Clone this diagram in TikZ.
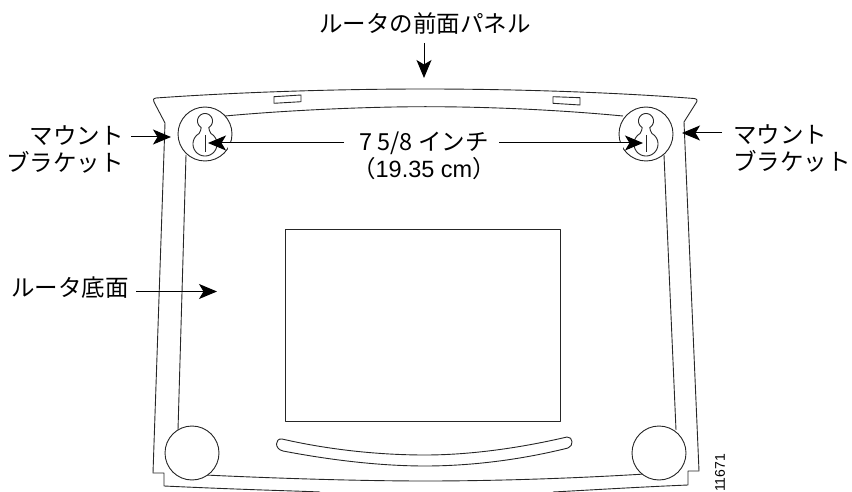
\documentclass[tikz,border=0pt]{standalone}
\usepackage{fontspec}
\setmainfont{Liberation Sans}
\newfontfamily\cjk{Noto Sans CJK JP}
\usetikzlibrary{arrows.meta}
\tikzset{
  body/.style={draw=black!85,line width=0.9pt,line join=round},
  callout/.style={draw=black,line width=1pt,-{Stealth[length=18pt,width=15pt,inset=4.5pt]}},
  halo/.style={draw=white,line width=7pt},
  lab/.style={font=\fontsize{23.5}{27}\selectfont\cjk,inner sep=0pt,align=center},
  knob/.style={draw=black!85,line width=0.9pt,fill=white,circle,minimum size=54pt,inner sep=0pt},
}
\begin{document}
\begin{tikzpicture}[x=1pt,y=-1pt]
\useasboundingbox (0,0) rectangle (852,492);
% outer shell
\draw[body] (320,492) .. controls (300,491) and (250,490) .. (164,486) -- (164,473) -- (153,473) -- (165,123) -- (154,102) .. controls (153,100) and (153,98.5) .. (156,98) .. controls (240,92) and (340,89) .. (425,89) .. controls (510,89) and (610,92) .. (694,98.5) .. controls (697,99) and (698,100) .. (696,103) -- (684,122) -- (699,471) -- (688,471) -- (688,485) .. controls (640,487) and (590,490) .. (553,492);
% inner
\draw[body] (225,116) .. controls (290,110) and (370,106.7) .. (425,106.7) .. controls (490,106.7) and (560,110) .. (623,116);
\draw[body] (186,155) -- (178,430);
\draw[body] (664,155) -- (676,430);
\draw[body] (205,475) .. controls (290,479) and (370,481) .. (425,481) .. controls (500,481) and (580,478) .. (645,474);
% recess
\draw[body] (285,229) rectangle (560,421);
% tabs
\draw[body] (274,96.7) -- (301,95) -- (301,101.7) -- (274,103.3) -- cycle;
\draw[body] (553,96.7) -- (580,97.7) -- (580,105) -- (553,103.3) -- cycle;
% slot
\draw[body] (282,439) .. controls (330,450) and (380,455) .. (425,455) .. controls (470,455) and (520,448) .. (567,437) .. controls (573,436.5) and (574,446) .. (568,448) .. controls (520,460) and (470,466) .. (425,466) .. controls (380,466) and (330,460) .. (283,451) .. controls (274,449) and (275,438) .. (282,439) -- cycle;
% feet
\node[knob] (footL) at (192,453) {};
\node[knob] (footR) at (659,453) {};
% mounting brackets
\node[knob] (mountL) at (205,134) {};
\node[knob] (mountR) at (646,134) {};
\foreach \cx in {205,646}{
  \draw[body] plot[domain=120:420,samples=40,variable=\t] ({\cx+7.5*cos(\t)},{121+7.5*sin(\t)})
    .. controls (\cx+3.75,130) and (\cx+5,131.5) .. (\cx+6,133.6)
    -- plot[domain=-60:240,samples=50,variable=\t] ({\cx+12*cos(\t)},{144+12*sin(\t)})
    .. controls (\cx-5,131.5) and (\cx-3.75,130) .. (\cx-3.75,127.5);
  \draw[body] (\cx,135) -- (\cx,152);
}
% labels
\node[lab] (front) at (425,24) {ルータの前面パネル};
\node[lab,align=right,anchor=east] (mlL) at (124,149) {マウント\\ブラケット};
\node[lab,align=left,anchor=west] (mlR) at (733,148.5) {マウント\\ブラケット};
\node[lab] (dim) at (424,156) {\fontsize{23.5}{26}\selectfont 7 5/8 \cjk インチ\\（\fontspec{Liberation Sans}19.35 cm\cjk ）};
\node[lab,anchor=east] (bottom) at (129,288) {ルータ底面};
\node[font=\fontsize{14}{16}\selectfont,rotate=90,inner sep=0pt] (code) at (720,473) {11671};
% targets
\coordinate (tFront) at (424,78);
\coordinate (tL) at (171,137);
\coordinate (tR) at (682,133);
\coordinate (dL) at (208,143);
\coordinate (dR) at (643,143);
\coordinate (tB) at (217,291.5);
\coordinate (sF) at (424,43);
\coordinate (sL) at (131,137);
\coordinate (sR) at (722,133);
\coordinate (sDL) at (344,143);
\coordinate (sDR) at (499,143);
\coordinate (sB) at (136,291.5);
\draw[halo] (228,147) -- (240,147);
\draw[halo] (612,147) -- (623,147);
\draw[callout] (sF) -- (tFront);
\draw[callout] (sL) -- (tL);
\draw[callout] (sR) -- (tR);
\draw[callout] (sDL) -- (dL);
\draw[callout] (sDR) -- (dR);
\draw[callout] (sB) -- (tB);
\end{tikzpicture}
\end{document}
